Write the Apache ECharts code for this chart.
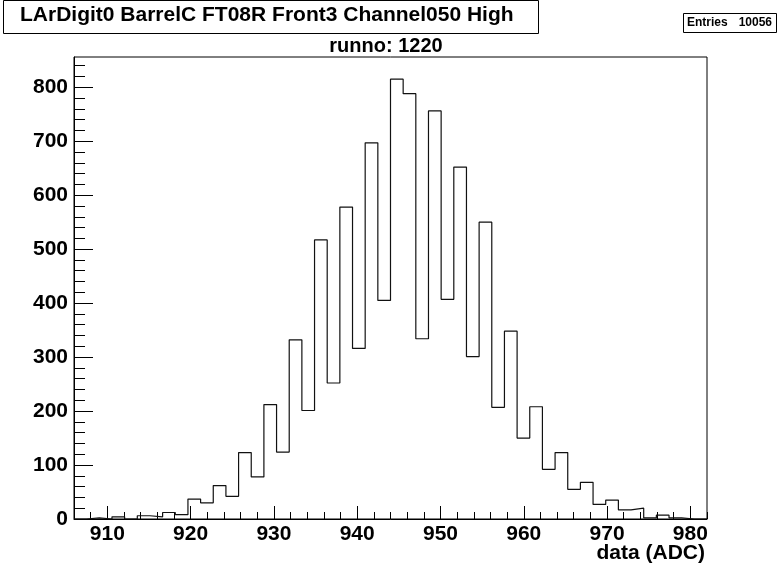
<!DOCTYPE html>
<html><head><meta charset="utf-8">
<script src="https://cdn.jsdelivr.net/npm/echarts@6/dist/echarts.min.js"></script>
<style>html,body{margin:0;padding:0;background:#fff}#c{width:777px;height:566px}</style>
</head><body><div id="c"></div>
<script>
// Histogram: 50 bins from 906 to 982
const binStart = 906;
const binWidth = 1.52;
const counts = [0,2,0,4,0,6,4,12,8,37,30,62,42,123,78,212,124,332,201,517,252,578,316,697,405,815,788,334,756,407,652,301,550,207,348,150,208,92,123,55,68,27,35,17,20,2,7,2,0,0];
const xMajor = [910,920,930,940,950,960,970,980];
const xMinor = [908,912,914,916,918,922,924,926,928,932,934,936,938,942,944,946,948,952,954,956,958,962,964,966,968,972,974,976,978,982];
const yMajor = [0,100,200,300,400,500,600,700,800];
const yMinor = [20,40,60,80,120,140,160,180,220,240,260,280,320,340,360,380,420,440,460,480,520,540,560,580,620,640,660,680,720,740,760,780,820,840];
const titleText = 'LArDigit0 BarrelC FT08R Front3 Channel050 High';
const subTitle = 'runno: 1220';
const statsLabel = 'Entries';
const statsValue = '10056';
const xName = 'data (ADC)';

const pts = [[binStart, 0]];
counts.forEach((c, i) => pts.push([binStart + i * binWidth, c]));
pts.push([binStart + counts.length * binWidth, counts[counts.length - 1]]);

const FONT = '"Liberation Sans", Arial, Helvetica, sans-serif';
const chart = echarts.init(document.getElementById('c'), null, {renderer: 'canvas'});
chart.setOption({
  animation: false,
  backgroundColor: '#fff',
  grid: {left: 74, right: 70, top: 57, bottom: 47, show: true, borderColor: '#000', borderWidth: 1, backgroundColor: 'transparent'},
  xAxis: [
    {type: 'value', min: 906, max: 982, position: 'bottom',
     axisLine: {show: true, lineStyle: {color: '#000', width: 1}},
     axisTick: {show: true, inside: true, length: 13, customValues: xMajor, lineStyle: {color: '#000'}},
     axisLabel: {show: true, customValues: xMajor, color: '#000', fontWeight: 'bold', fontSize: 21, fontFamily: FONT, margin: 5},
     splitLine: {show: false}},
    {type: 'value', min: 906, max: 982, position: 'bottom',
     axisLine: {show: false},
     axisTick: {show: true, inside: true, length: 7, customValues: xMinor, lineStyle: {color: '#000'}},
     axisLabel: {show: false}, splitLine: {show: false}}
  ],
  yAxis: [
    {type: 'value', min: 0, max: 856, position: 'left',
     axisLine: {show: true, lineStyle: {color: '#000', width: 1}},
     axisTick: {show: true, inside: true, length: 19, customValues: yMajor, lineStyle: {color: '#000'}},
     axisLabel: {show: true, customValues: yMajor, color: '#000', fontWeight: 'bold', fontSize: 21, fontFamily: FONT, margin: 6},
     splitLine: {show: false}},
    {type: 'value', min: 0, max: 856, position: 'left',
     axisLine: {show: false},
     axisTick: {show: true, inside: true, length: 11, customValues: yMinor, lineStyle: {color: '#000'}},
     axisLabel: {show: false}, splitLine: {show: false}}
  ],
  series: [{
    type: 'line', xAxisIndex: 0, yAxisIndex: 0, step: 'end', data: pts,
    symbol: 'none', lineStyle: {color: '#111', width: 1.2}, clip: true
  }],
  graphic: [
    {type: 'rect', left: 3, top: 0, shape: {width: 535, height: 33}, style: {fill: '#fff', stroke: '#000', lineWidth: 1}, z: 10},
    {type: 'text', left: 20, top: 5, style: {text: titleText, fill: '#000', font: 'bold 21px ' + FONT}, z: 11},
    {type: 'text', x: 386, y: 46, style: {text: subTitle, fill: '#000', font: 'bold 20px ' + FONT, textAlign: 'center', textVerticalAlign: 'middle'}, z: 11},
    {type: 'rect', left: 683, top: 13, shape: {width: 93, height: 19}, style: {fill: '#fff', stroke: '#000', lineWidth: 1}, z: 10},
    {type: 'text', x: 687, y: 23, style: {text: statsLabel, fill: '#000', font: 'bold 12px ' + FONT, textVerticalAlign: 'middle'}, z: 11},
    {type: 'text', x: 772, y: 23, style: {text: statsValue, fill: '#000', font: 'bold 12px ' + FONT, textAlign: 'right', textVerticalAlign: 'middle'}, z: 11},
    {type: 'text', x: 705, y: 553, style: {text: xName, fill: '#000', font: 'bold 21px ' + FONT, textAlign: 'right', textVerticalAlign: 'middle'}, z: 11}
  ]
});
</script></body></html>
